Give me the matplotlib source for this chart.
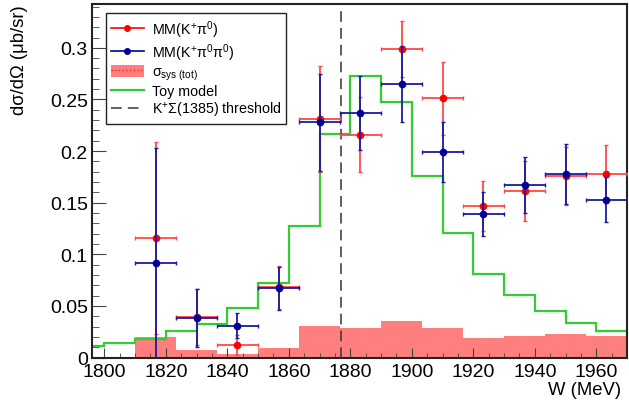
import numpy as np
import matplotlib
matplotlib.use("Agg")
import matplotlib.pyplot as plt
from matplotlib.patches import Patch
from matplotlib.lines import Line2D
from matplotlib.ticker import MultipleLocator, FuncFormatter

plt.rcParams['font.family'] = ['Liberation Sans', 'DejaVu Sans']
plt.rcParams['mathtext.fontset'] = 'custom'
plt.rcParams['mathtext.rm'] = 'Liberation Sans'
plt.rcParams['mathtext.it'] = 'Liberation Sans:italic'
plt.rcParams['mathtext.bf'] = 'Liberation Sans:bold'

# ---- data ----
bin_centers = [1816.7, 1830.0, 1843.3, 1856.7, 1870.0, 1883.3,
               1896.7, 1910.0, 1923.3, 1936.7, 1950.0, 1963.3]
bin_halfwidth = 6.67

red_y   = [0.116, 0.039, 0.012, 0.068, 0.231, 0.216, 0.299, 0.251, 0.147, 0.161, 0.176, 0.178]
red_err = [0.093, 0.027, 0.010, 0.021, 0.051, 0.036, 0.027, 0.035, 0.024, 0.029, 0.028, 0.028]

blue_y   = [0.092, 0.038, 0.031, 0.067, 0.228, 0.237, 0.265, 0.199, 0.139, 0.167, 0.178, 0.153]
blue_err = [0.111, 0.028, 0.012, 0.021, 0.047, 0.036, 0.037, 0.029, 0.021, 0.027, 0.029, 0.022]

sys_edges = [1810.0, 1823.3, 1836.7, 1850.0, 1863.3, 1876.7, 1890.0,
             1903.3, 1916.7, 1930.0, 1943.3, 1956.7, 1970.0]
sys_vals  = [0.020, 0.0073, 0.0031, 0.0095, 0.0306, 0.0286, 0.0351,
             0.0283, 0.0186, 0.0211, 0.0228, 0.0211]

toy_edges = [1790, 1800, 1810, 1820, 1830, 1840, 1850, 1860, 1870, 1880,
             1890, 1900, 1910, 1920, 1930, 1940, 1950, 1960, 1970]
toy_vals  = [0.0109, 0.0138, 0.0179, 0.0254, 0.0325, 0.0477, 0.0719, 0.1277,
             0.2170, 0.2728, 0.2473, 0.1756, 0.1206, 0.0809, 0.0609, 0.0453,
             0.0331, 0.0260]

threshold = 1876.9

xticks = [1800, 1820, 1840, 1860, 1880, 1900, 1920, 1940, 1960]
yticks = [0, 0.05, 0.1, 0.15, 0.2, 0.25, 0.3]

# ---- figure ----
fig = plt.figure(figsize=(6.29, 4.02), dpi=100)
ax = fig.add_axes([0.1463, 0.1082, 0.8506, 0.8794])

band_color = '#ff7f7f'
ax.stairs(sys_vals, sys_edges, fill=True, color=band_color, zorder=1)

ax.stairs(toy_vals, toy_edges, color='#33cc33', lw=1.6, zorder=2)

ax.axvline(threshold, color='#333333', lw=1.1, ls=(0, (7, 4)), zorder=3)

xerr = [bin_halfwidth] * len(bin_centers)
ax.errorbar(bin_centers, red_y, xerr=xerr, yerr=red_err, fmt='o', ms=4.5,
            color='#ff0000', ecolor='#ff4848', elinewidth=1.3, capsize=1.2,
            capthick=1.0, zorder=5)
ax.errorbar(bin_centers, blue_y, xerr=xerr, yerr=blue_err, fmt='o', ms=4.5,
            color='#000099', ecolor='#1a1aa0', elinewidth=1.3, capsize=1.2,
            capthick=1.0, zorder=6)

ax.set_xlim(1796, 1970)
ax.set_ylim(0, 0.3425)

ax.set_xticks(xticks)
ax.set_yticks(yticks)
ax.xaxis.set_minor_locator(MultipleLocator(5))
ax.yaxis.set_minor_locator(MultipleLocator(0.01))
ax.yaxis.set_major_formatter(FuncFormatter(lambda v, p: '%g' % v))
ax.tick_params(axis='both', which='both', direction='in', top=False, right=False,
               labelsize=14, color='#444444')
ax.tick_params(axis='x', which='major', length=7, pad=4)
ax.tick_params(axis='x', which='minor', length=3.5)
ax.tick_params(axis='y', which='major', length=10, pad=3)
ax.tick_params(axis='y', which='minor', length=5)

for s in ax.spines.values():
    s.set_linewidth(1.5)
    s.set_color('#222222')

ax.set_ylabel('dσ/dΩ (μb/sr)', fontsize=13.3, loc='top')
ax.yaxis.set_label_coords(-0.12, 1.0)
ax.set_xlabel('W (MeV)', fontsize=13.3, loc='right')
ax.xaxis.set_label_coords(0.989, -0.066)

# legend
h_red = Line2D([], [], color='#ff0000', marker='o', ms=4, lw=1.2)
h_blue = Line2D([], [], color='#000099', marker='o', ms=4, lw=1.2)
h_sys = (Patch(facecolor=band_color, edgecolor='none'),
         Line2D([], [], color='#ff2020', lw=1, ls=':'))
h_toy = Line2D([], [], color='#33cc33', lw=1.6)
h_thr = Line2D([], [], color='#333333', lw=1.1, ls=(0, (7, 4)))
labels = ['MM(K$^{+}$π$^{0}$)', 'MM(K$^{+}$π$^{0}$π$^{0}$)',
          'σ$_{\\mathrm{sys\\ (tot)}}$', 'Toy model', 'K$^{+}$Σ(1385) threshold']
leg = ax.legend([h_red, h_blue, h_sys, h_toy, h_thr], labels,
                loc='upper left', bbox_to_anchor=(0.026, 0.9745),
                fontsize=10.3, frameon=True, fancybox=False, framealpha=1,
                edgecolor='#222222', handlelength=2.3, handletextpad=0.55,
                labelspacing=0.12, borderpad=0.35, borderaxespad=0,
                handleheight=1.0)
leg.get_frame().set_linewidth(1.0)

fig.savefig('out.png', dpi=100)
